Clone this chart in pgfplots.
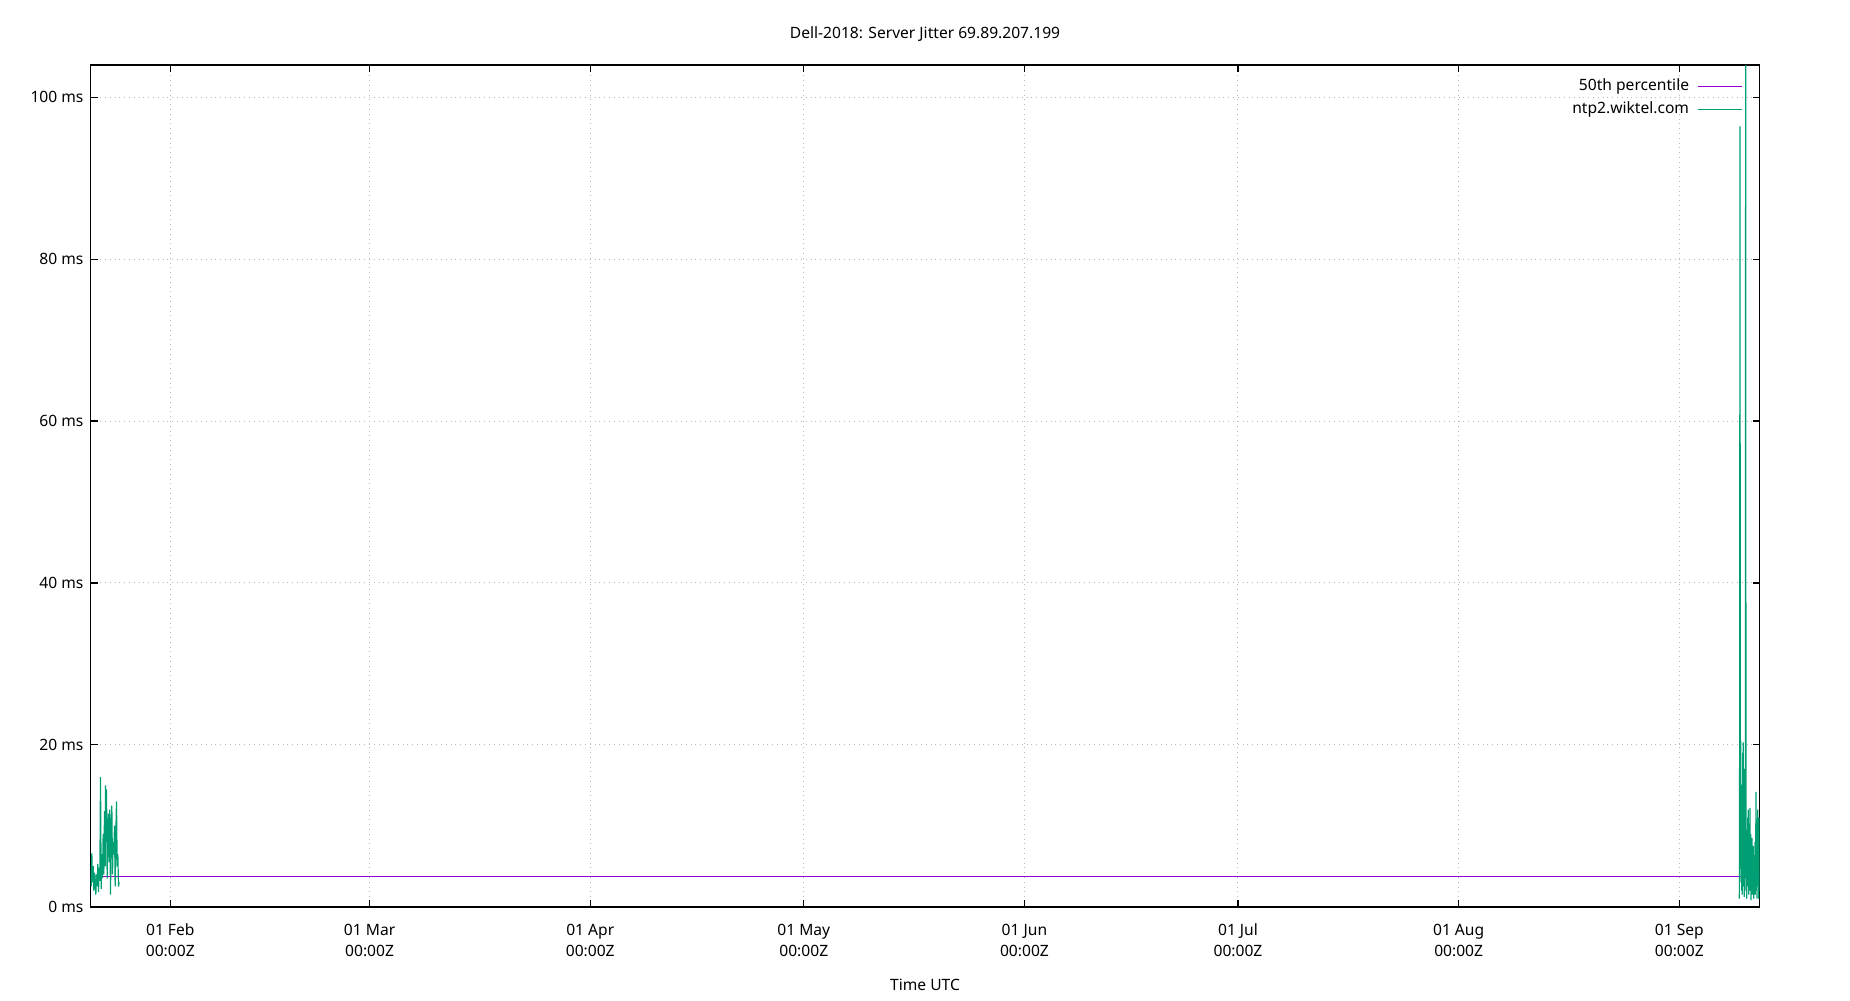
\documentclass[border=0pt]{standalone}
\usepackage{pgfplots}
\pgfplotsset{compat=1.18}
\usepackage{fontspec}
\setmainfont{Noto Sans}

\definecolor{gpviolet}{HTML}{9400D3}
\definecolor{gpgreen}{HTML}{009E73}

\begin{document}
\begin{tikzpicture}
  % page is 925pt x 500pt (1pt = 2px in the reference)
  \path[use as bounding box] (0,0) rectangle (925pt,500pt);
  \begin{axis}[
    at={(45.25pt,46.65pt)}, anchor=south west,
    scale only axis,
    width=834.5pt, height=420.7pt,
    font=\fontsize{7.8}{9.2}\selectfont,
    /pgf/number format/assume math mode=true,
    xmin=19.79, xmax=254.27,
    ymin=0, ymax=103.95,
    xtick={31,59,90,120,151,181,212,243},
    xticklabels={{01 Feb\\00:00Z},{01 Mar\\00:00Z},{01 Apr\\00:00Z},{01 May\\00:00Z},
                 {01 Jun\\00:00Z},{01 Jul\\00:00Z},{01 Aug\\00:00Z},{01 Sep\\00:00Z}},
    xticklabel style={align=center, font=\fontsize{7.8}{10.5}\selectfont, yshift=-5pt},
    ytick={0,20,40,60,80,100},
    yticklabels={0 ms,20 ms,40 ms,60 ms,80 ms,100 ms},
    tick align=inside,
    tick pos=both,
    major tick length=3.5pt,
    tick style={black, line width=0.6pt},
    axis line style={line width=0.9pt},
    grid=major,
    major grid style={dotted, gray!55, line width=0.5pt},
    title={Dell-2018: Server Jitter 69.89.207.199},
    every axis title/.style={at={(0.5,1)}, anchor=center, yshift=15.6pt},
    xlabel={Time UTC},
    every axis x label/.style={at={(0.5,0)}, anchor=center, yshift=-39pt},
    unbounded coords=jump,
    legend style={draw=none, fill=none, at={(rel axis cs:0.9935,0.9915)}, anchor=north east,
                  row sep=1.25pt, font=\fontsize{7.8}{9.2}\selectfont,
                  nodes={inner sep=1pt, text height=6pt, text depth=2pt},
                  /tikz/every odd column/.append style={column sep=3pt}},
    legend cell align=right,
    legend plot pos=right,
    legend image code/.code={\draw[#1] (0pt,0pt) -- (22pt,0pt);},
  ]

  % 50th percentile
  \addplot[gpviolet, line width=0.6pt] coordinates {(19.79,3.78) (254.27,3.78)};
  \addlegendentry{50th percentile}

  % ntp2.wiktel.com jitter
  \addplot[gpgreen, line width=0.6pt] coordinates {
    (19.790,4.5) (19.884,2.5) (19.977,6.6) (20.071,3.0) (20.165,5.0) (20.258,2.0)
    (20.352,4.2) (20.446,3.0) (20.539,1.5) (20.633,4.0) (20.727,2.5) (20.820,5.3)
    (20.914,1.8) (21.008,4.8) (21.101,3.2) (21.195,16.0) (21.289,2.2) (21.382,6.5)
    (21.476,3.5) (21.570,9.0) (21.663,4.0) (21.757,11.8) (21.850,5.0) (21.897,15.0)
    (21.991,8.0) (22.038,14.5) (22.132,3.5) (22.225,9.0) (22.319,11.5) (22.413,5.5)
    (22.506,12.0) (22.600,1.5) (22.693,9.5) (22.787,12.5) (22.881,4.0) (22.974,8.0)
    (23.068,6.5) (23.162,10.0) (23.255,2.5) (23.349,9.0) (23.443,13.0) (23.536,5.0)
    (23.630,6.5) (23.724,2.5) (23.817,3.0)
    (100,nan)
    (251.434,1.0) (251.481,21.8) (251.528,96.4) (251.574,5.0) (251.621,20.5) (251.668,3.0)
    (251.715,15.0) (251.762,2.0) (251.809,8.0) (251.856,1.5) (251.902,19.0) (251.949,4.0)
    (251.996,20.3) (252.043,2.5) (252.090,9.0) (252.137,1.2) (252.183,17.0) (252.230,3.5)
    (252.277,6.0) (252.324,110) (252.371,2.0) (252.418,7.5) (252.465,1.0) (252.511,9.5)
    (252.558,2.5) (252.605,11.0) (252.652,4.0) (252.699,12.0) (252.746,1.5) (252.792,8.0)
    (252.839,3.0) (252.886,6.5) (252.933,12.2) (252.980,2.0) (253.027,9.0) (253.073,0.8)
    (253.120,7.0) (253.167,3.5) (253.214,8.5) (253.261,1.5) (253.308,6.0) (253.355,2.0)
    (253.401,7.5) (253.448,1.0) (253.495,5.5) (253.542,3.0) (253.589,4.5) (253.636,8.0)
    (253.682,1.5) (253.729,6.0) (253.776,14.2) (253.823,2.0) (253.870,10.0) (253.917,1.0)
    (253.963,7.0) (254.010,12.0) (254.057,2.5) (254.104,9.5) (254.151,1.0) (254.198,11.0)
    (254.245,2.0)
  };
  \addlegendentry{ntp2.wiktel.com}

  \end{axis}
\end{tikzpicture}
\end{document}
